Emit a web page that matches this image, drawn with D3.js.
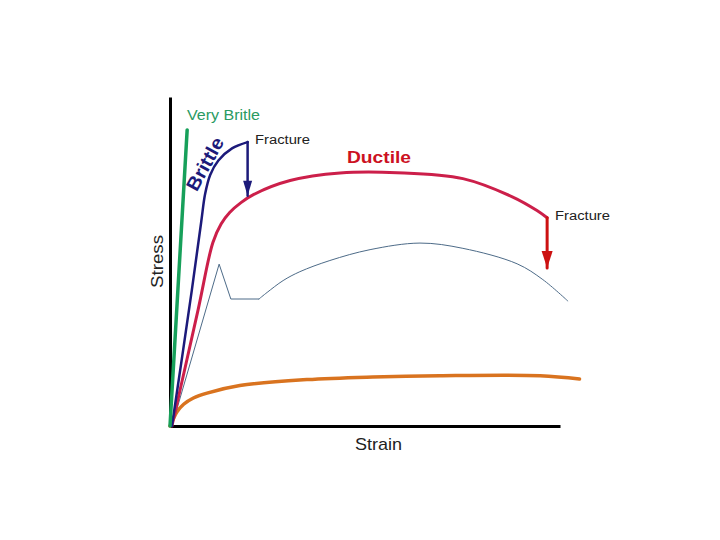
<!DOCTYPE html>
<html>
<head>
<meta charset="utf-8">
<script src="https://cdn.jsdelivr.net/npm/d3@7"></script>
<style>
  html, body { margin: 0; padding: 0; background: #fff; }
  svg { display: block; }
  text { font-family: "Liberation Sans", Arial, sans-serif; }
</style>
</head>
<body>
<svg id="chart" width="720" height="540"></svg>
<script>
// ---- data (strain 0..100, stress 0..100, arbitrary units) ----
const veryBrittle = [[0, 0], [4.4, 90]];
const brittle = [[0.5, 0], [5.6, 41.3], [8.0, 62.0], [9.0, 70.5], [10.3, 76.3], [12.4, 80.7], [15.9, 84.4], [19.9, 86.3]];
const brittleFracture = [[19.9, 86.3], [19.9, 70.0]];
const ductile = [[0.5, 0], [7.2, 35.3], [11.0, 55.8], [13.1, 61.4], [15.3, 64.9], [18.2, 67.9], [21.5, 70.4], [30.8, 74.6], [43.6, 76.9], [58.2, 77.0], [75.1, 75.2], [87.9, 69.6], [94.1, 65.5], [96.7, 63.3]];
const ductileFracture = [[96.7, 63.3], [96.7, 48.0]];
const yieldSegment = [[0.5, 0], [12.6, 49.2], [15.6, 38.6], [22.8, 38.6]];
const yieldCurve = [[22.8, 38.6], [24.9, 40.6], [29.0, 44.2], [33.3, 46.9], [41.0, 50.3], [51.3, 53.6], [64.1, 55.6], [75.1, 54.0], [89.0, 49.3], [95.6, 44.5], [102.0, 38.0]];
const plastic = [[0, 0], [0.8, 2.0], [1.8, 4.3], [3.5, 6.6], [6.0, 8.5], [9.5, 10.0], [17.9, 12.3], [35.1, 14.1], [52.0, 14.9], [69.2, 15.3], [94.9, 15.3], [105.0, 14.3]];
const labels = {
  xTitle: "Strain", yTitle: "Stress",
  veryBrittle: "Very Britle", brittle: "Brittle", ductile: "Ductile", fracture: "Fracture"
};

const svg = d3.select("#chart");
const x = d3.scaleLinear().domain([0, 100]).range([170, 560]);
const y = d3.scaleLinear().domain([0, 100]).range([426, 97]);

// axes (no ticks)
const gx = svg.append("g").attr("transform", `translate(0,${y(0)})`)
  .call(d3.axisBottom(x).ticks(0).tickSizeOuter(0));
gx.select(".domain").attr("stroke", "#000").attr("stroke-width", 3);
const gy = svg.append("g").attr("transform", `translate(${x(0)},0)`)
  .call(d3.axisLeft(y).ticks(0).tickSizeOuter(0));
gy.select(".domain").attr("stroke", "#000").attr("stroke-width", 3);

const lineLin = d3.line().x(d => x(d[0])).y(d => y(d[1])).curve(d3.curveLinear);
const lineSmooth = d3.line().x(d => x(d[0])).y(d => y(d[1])).curve(d3.curveCatmullRom.alpha(0.5));

function draw(data, gen, color, w) {
  svg.append("path").datum(data).attr("d", gen)
    .attr("fill", "none").attr("stroke", color).attr("stroke-width", w)
    .attr("stroke-linejoin", "round").attr("stroke-linecap", "round");
}

// plastic (orange)
draw(plastic, lineSmooth, "#d9731f", 3.5);
// steel with yield point (thin)
draw(yieldSegment, lineLin, "#4d6b88", 1);
draw(yieldCurve, lineSmooth, "#4d6b88", 1);
// ductile (red)
draw(ductile, lineSmooth, "#cc1f4a", 3);
draw(ductileFracture, lineLin, "#cc1111", 3);
// brittle (navy)
draw(brittle, lineSmooth, "#1c1a7a", 2.5);
draw(brittleFracture, lineLin, "#1c1a7a", 2.5);
// very brittle (green)
draw(veryBrittle, lineLin, "#17a05a", 3.5);

// arrowheads
function arrowHead(pt, color, len, half) {
  const tx = x(pt[0]), ty = y(pt[1]);
  svg.append("path")
    .attr("d", `M${tx},${ty} L${tx - half},${ty - len} L${tx + half},${ty - len} Z`)
    .attr("fill", color);
}
arrowHead(brittleFracture[1], "#1c1a7a", 15, 4.5);
arrowHead(ductileFracture[1], "#cc1111", 17, 5.5);

// text labels
svg.append("text").attr("x", 187).attr("y", 120).attr("fill", "#2a9a62")
  .attr("font-size", 15).attr("textLength", 73).attr("lengthAdjust", "spacingAndGlyphs")
  .text(labels.veryBrittle);

svg.append("text").attr("transform", "translate(205,164) rotate(-61)")
  .attr("text-anchor", "middle").attr("dominant-baseline", "central")
  .attr("fill", "#1c1a7a").attr("font-size", 19).attr("font-weight", "bold")
  .attr("textLength", 58).attr("lengthAdjust", "spacingAndGlyphs")
  .text(labels.brittle);

svg.append("text").attr("x", 255).attr("y", 144).attr("fill", "#222")
  .attr("font-size", 12).attr("textLength", 55).attr("lengthAdjust", "spacingAndGlyphs")
  .text(labels.fracture);

svg.append("text").attr("x", 555).attr("y", 220).attr("fill", "#222")
  .attr("font-size", 12).attr("textLength", 55).attr("lengthAdjust", "spacingAndGlyphs")
  .text(labels.fracture);

svg.append("text").attr("x", 347).attr("y", 163).attr("fill", "#cc1122")
  .attr("font-size", 16).attr("font-weight", "bold").attr("textLength", 64).attr("lengthAdjust", "spacingAndGlyphs")
  .text(labels.ductile);

svg.append("text").attr("x", 355).attr("y", 450).attr("fill", "#222")
  .attr("font-size", 17).attr("textLength", 47).attr("lengthAdjust", "spacingAndGlyphs")
  .text(labels.xTitle);

svg.append("text").attr("transform", "translate(163,288) rotate(-90)")
  .attr("fill", "#222")
  .attr("font-size", 17).attr("textLength", 53).attr("lengthAdjust", "spacingAndGlyphs")
  .text(labels.yTitle);
</script>
</body>
</html>
